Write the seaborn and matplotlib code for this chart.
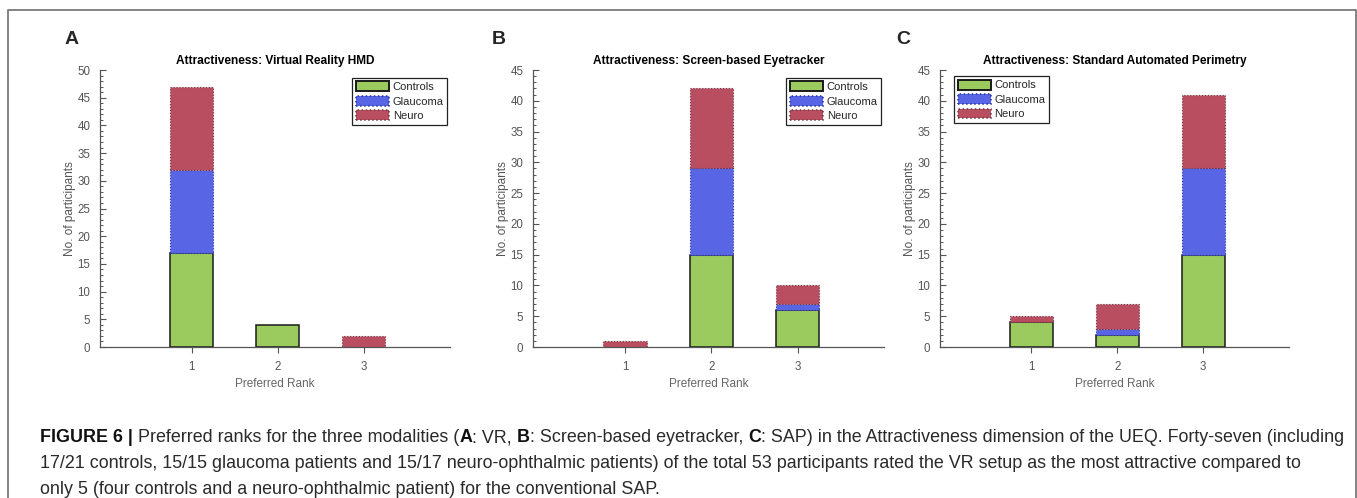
import numpy as np
import pandas as pd
import matplotlib
matplotlib.use("Agg")
import matplotlib.pyplot as plt
import seaborn as sns
from matplotlib.patches import Patch
from matplotlib.lines import Line2D
from matplotlib.ticker import MultipleLocator

# Counts (participants per preferred rank)
ranks = [1, 2, 3]
groups = ["Controls", "Glaucoma", "Neuro"]

vr_controls = [17, 4, 0]
vr_glaucoma = [15, 0, 0]
vr_neuro = [15, 0, 2]

eye_controls = [0, 15, 6]
eye_glaucoma = [0, 14, 1]
eye_neuro = [1, 13, 3]

sap_controls = [4, 2, 15]
sap_glaucoma = [0, 1, 14]
sap_neuro = [1, 4, 12]

titles = ["Attractiveness: Virtual Reality HMD",
          "Attractiveness: Screen-based Eyetracker",
          "Attractiveness: Standard Automated Perimetry"]
letters = ["A", "B", "C"]
y_tops = [50, 45, 45]

sns.set_style("white")
plt.rcParams['font.family'] = ['Liberation Sans', 'DejaVu Sans']

fill = {"Controls": "#9bcb5e", "Glaucoma": "#5865e5", "Neuro": "#b84e5f"}
edge = {"Controls": "#1a1a1a", "Glaucoma": "#27329e", "Neuro": "#6e3442"}
style = {"Controls": "-", "Glaucoma": ":", "Neuro": ":"}
width = {"Controls": 1.1, "Glaucoma": 0.8, "Neuro": 0.8}
axis_gray = "#555555"

fig = plt.figure(figsize=(13.57, 4.98), dpi=100)
W, H = 1357, 498


def px_axes(left, right, top, bottom):
    return fig.add_axes([left / W, 1 - bottom / H, (right - left) / W, (bottom - top) / H])


axes = [px_axes(100, 450, 70, 347), px_axes(533, 884, 70, 347), px_axes(940, 1289, 70, 347)]
panels = [
    {"Controls": vr_controls, "Glaucoma": vr_glaucoma, "Neuro": vr_neuro},
    {"Controls": eye_controls, "Glaucoma": eye_glaucoma, "Neuro": eye_neuro},
    {"Controls": sap_controls, "Glaucoma": sap_glaucoma, "Neuro": sap_neuro},
]
legend_spots = [("upper right", (0.992, 0.972)), ("upper right", (0.992, 0.972)), ("upper left", (0.04, 0.978))]
letter_x = [65, 492, 896]


def draw_panel(ax, counts, title, ymax, loc, anchor):
    bottom = np.zeros(len(ranks))
    for g in groups:
        vals = np.array(counts[g], dtype=float)
        df = pd.DataFrame({"rank": ranks, "n": vals})
        before = len(ax.patches)
        sns.barplot(data=df, x="rank", y="n", orient="x", native_scale=True, width=0.5,
                    bottom=bottom, color=fill[g], saturation=1, errorbar=None,
                    edgecolor=edge[g], linestyle=style[g], linewidth=width[g], ax=ax)
        for p in ax.patches[before:]:
            if p.get_height() == 0:
                p.set_visible(False)
        bottom = bottom + vals

    ax.set_xlim(-0.065, 4)
    ax.set_ylim(0, ymax)
    ax.set_xticks(ranks)
    ax.set_xticklabels([str(r) for r in ranks])
    ax.yaxis.set_major_locator(MultipleLocator(5))
    ax.yaxis.set_minor_locator(MultipleLocator(1))
    ax.tick_params(axis="y", which="major", direction="in", length=4, width=0.8,
                   colors=axis_gray, labelsize=8.3, left=True, pad=7)
    ax.tick_params(axis="y", which="minor", direction="in", length=2.2, width=0.7,
                   colors=axis_gray, left=True)
    ax.tick_params(axis="x", which="major", direction="out", length=4, width=0.8,
                   colors=axis_gray, labelsize=8.3, bottom=True, pad=6)
    for s in ["top", "right"]:
        ax.spines[s].set_visible(False)
    for s in ["left", "bottom"]:
        ax.spines[s].set_color(axis_gray)
        ax.spines[s].set_linewidth(0.9)
    ax.set_xlabel("Preferred Rank", fontsize=8.5, color="#666666", labelpad=4)
    ax.set_ylabel("No. of participants", fontsize=8.5, color=axis_gray, labelpad=1)
    ax.set_title(title, fontsize=8.6, fontweight="bold", color="black", pad=4)

    handles = [Patch(facecolor=fill[g], edgecolor=edge[g], linestyle=style[g], linewidth=width[g] + 0.3)
               for g in groups]
    leg = ax.legend(handles, groups, loc=loc, bbox_to_anchor=anchor, fontsize=8,
                    frameon=True, fancybox=False, framealpha=1, edgecolor="#222222",
                    handlelength=3.0, handleheight=1.0, handletextpad=0.3,
                    labelspacing=0.33, borderpad=0.32, borderaxespad=0)
    leg.get_frame().set_linewidth(0.9)


for i, ax in enumerate(axes):
    draw_panel(ax, panels[i], titles[i], y_tops[i], *legend_spots[i])
    fig.text(letter_x[i] / W, 1 - 40 / H, letters[i], fontsize=14, fontweight="bold",
             va="center", ha="left")

# outer frame of the figure box
fig.add_artist(Line2D([8 / W, 8 / W, 1355.5 / W, 1355.5 / W], [0, 1 - 10 / H, 1 - 10 / H, 0],
                      transform=fig.transFigure, color="#7a7a7a", linewidth=1.3))

# caption with bold runs
caption_lines = [
    [("FIGURE 6 |", True), (" Preferred ranks for the three modalities (", False), ("A", True),
     (": VR, ", False), ("B", True), (": Screen-based eyetracker, ", False), ("C", True),
     (": SAP) in the Attractiveness dimension of the UEQ. Forty-seven (including", False)],
    [("17/21 controls, 15/15 glaucoma patients and 15/17 neuro-ophthalmic patients) of the total 53 "
      "participants rated the VR setup as the most attractive compared to", False)],
    [("only 5 (four controls and a neuro-ophthalmic patient) for the conventional SAP.", False)],
]
cap_size = 12.9
fig.canvas.draw()
renderer = fig.canvas.get_renderer()


def text_w(s, bold):
    t = fig.text(0, 0, s, fontsize=cap_size, fontweight="bold" if bold else "normal")
    w = t.get_window_extent(renderer).width
    t.remove()
    return w


space_w = {b: text_w("x x", b) - text_w("xx", b) for b in (True, False)}
baselines = [442, 468, 493.5]
for line, yb in zip(caption_lines, baselines):
    x = 40.0
    for s, bold in line:
        lead = len(s) - len(s.lstrip(" "))
        trail = len(s) - len(s.rstrip(" "))
        core = s.strip(" ")
        x += lead * space_w[bold]
        fig.text(x / W, 1 - yb / H, core, fontsize=cap_size,
                 fontweight="bold" if bold else "normal",
                 color="#111111" if bold else "#2a2a2a", va="baseline", ha="left")
        x += text_w(core, bold) + trail * space_w[bold]

fig.savefig("out.png", dpi=100)
